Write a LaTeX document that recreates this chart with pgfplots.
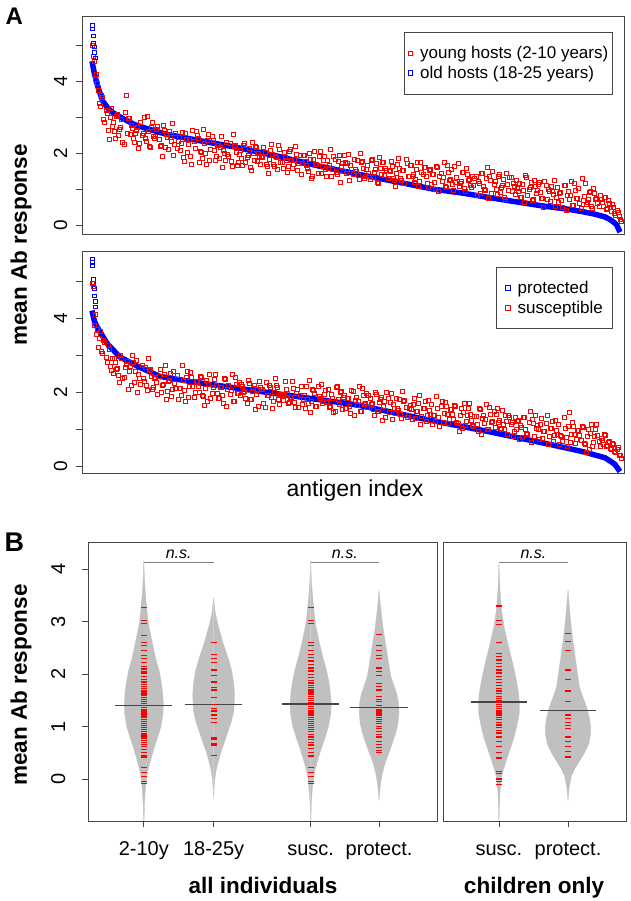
\documentclass[border=0pt]{standalone}
\usepackage{pgfplots}
\pgfplotsset{compat=1.18}
\usepackage{pgfplotstable}
\usepackage{fontspec}
\setmainfont{Liberation Sans}
\definecolor{rblue}{RGB}{0,0,255}
\definecolor{bean}{RGB}{192,192,192}
\definecolor{frame}{RGB}{70,70,70}
\newcommand{\fs}[1]{\fontsize{#1}{#1}\selectfont}

% panel A, top: young hosts, one mean per antigen (antigens sorted by old-host response)
\pgfplotstableread[row sep=\\]{
y\\
5.00\\ 4.55\\ 4.20\\ 3.75\\ 3.30\\ 3.55\\ 2.85\\ 3.10\\ 2.40\\ 3.25\\
2.86\\ 2.42\\ 3.09\\ 2.66\\ 2.94\\ 2.26\\ 3.62\\ 2.98\\ 2.54\\ 2.70\\
2.31\\ 2.65\\ 2.15\\ 2.87\\ 2.56\\ 2.42\\ 3.03\\ 2.21\\ 2.72\\ 2.47\\
2.46\\ 2.75\\ 2.20\\ 1.91\\ 2.65\\ 2.52\\ 2.11\\ 2.44\\ 2.82\\ 2.26\\
2.14\\ 2.44\\ 2.27\\ 1.89\\ 2.55\\ 2.02\\ 2.38\\ 1.71\\ 2.33\\ 2.61\\
2.41\\ 2.05\\ 1.86\\ 2.28\\ 1.70\\ 2.52\\ 2.11\\ 2.35\\ 1.80\\ 2.23\\
1.86\\ 2.47\\ 2.10\\ 1.81\\ 1.98\\ 2.27\\ 1.65\\ 2.21\\ 2.03\\ 1.75\\
2.08\\ 1.67\\ 2.29\\ 1.89\\ 2.15\\ 1.53\\ 1.99\\ 2.19\\ 1.78\\ 1.93\\
1.92\\ 2.16\\ 1.70\\ 1.46\\ 2.08\\ 1.97\\ 1.63\\ 1.90\\ 2.22\\ 1.75\\
1.60\\ 1.88\\ 1.47\\ 2.07\\ 1.81\\ 1.69\\ 2.20\\ 1.52\\ 1.94\\ 1.73\\
1.96\\ 1.66\\ 1.50\\ 1.85\\ 1.37\\ 2.05\\ 1.71\\ 1.91\\ 1.45\\ 1.81\\
1.57\\ 1.82\\ 1.68\\ 1.36\\ 1.91\\ 1.47\\ 1.77\\ 1.21\\ 1.73\\ 1.96\\
1.46\\ 1.97\\ 1.66\\ 1.42\\ 1.56\\ 1.80\\ 1.28\\ 1.75\\ 1.60\\ 1.37\\
1.66\\ 1.29\\ 1.85\\ 1.49\\ 1.72\\ 1.16\\ 1.58\\ 1.76\\ 1.39\\ 1.52\\
1.54\\ 1.78\\ 1.32\\ 1.08\\ 1.70\\ 1.59\\ 1.25\\ 1.52\\ 1.84\\ 1.37\\
1.67\\ 1.37\\ 1.21\\ 1.56\\ 1.08\\ 1.76\\ 1.42\\ 1.62\\ 1.16\\ 1.52\\
1.15\\ 1.43\\ 1.02\\ 1.62\\ 1.36\\ 1.24\\ 1.75\\ 1.07\\ 1.49\\ 1.28\\
1.14\\ 1.65\\ 1.34\\ 1.10\\ 1.24\\ 1.48\\ 0.96\\ 1.43\\ 1.28\\ 1.05\\
1.11\\ 1.36\\ 1.22\\ 0.90\\ 1.45\\ 1.01\\ 1.31\\ 0.75\\ 1.27\\ 1.50\\
1.23\\ 0.86\\ 1.42\\ 1.06\\ 1.29\\ 0.73\\ 1.15\\ 1.33\\ 0.96\\ 1.09\\
1.25\\ 0.95\\ 0.79\\ 1.14\\ 0.66\\ 1.34\\ 1.00\\ 1.20\\ 0.74\\ 1.10\\
0.97\\ 1.21\\ 0.75\\ 0.51\\ 1.13\\ 1.02\\ 0.68\\ 0.95\\ 1.27\\ 0.80\\
0.64\\ 0.92\\ 0.51\\ 1.11\\ 0.85\\ 0.73\\ 1.24\\ 0.56\\ 0.98\\ 0.77\\
0.63\\ 1.30\\ 0.81\\ 0.60\\ 0.72\\ 0.94\\ 0.47\\ 0.90\\ 0.76\\ 0.55\\
0.72\\ 0.55\\ 0.80\\ 0.48\\ 0.62\\ 0.40\\ 0.52\\ 0.30\\ 0.38\\ 0.18\\
}\youngA
\pgfplotstableread[row sep=\\]{
y\\
4.70\\ 4.05\\ 3.95\\ 3.40\\ 3.60\\ 2.95\\ 3.20\\ 2.65\\ 3.00\\ 2.75\\
2.61\\ 3.04\\ 2.49\\ 2.73\\ 2.32\\ 3.14\\ 2.56\\ 2.98\\ 2.79\\ 2.43\\
2.57\\ 2.73\\ 2.29\\ 2.50\\ 3.01\\ 2.33\\ 2.61\\ 2.18\\ 2.85\\ 2.41\\
2.68\\ 2.40\\ 2.22\\ 2.78\\ 2.16\\ 2.45\\ 2.62\\ 2.33\\ 1.96\\ 2.57\\
2.33\\ 2.08\\ 2.59\\ 1.77\\ 2.38\\ 2.24\\ 1.93\\ 2.65\\ 2.15\\ 2.49\\
1.76\\ 2.04\\ 2.66\\ 1.99\\ 2.35\\ 1.82\\ 2.48\\ 2.10\\ 1.93\\ 2.23\\
2.17\\ 1.61\\ 1.99\\ 2.32\\ 1.91\\ 1.78\\ 2.52\\ 2.23\\ 1.68\\ 1.97\\
1.86\\ 2.22\\ 1.76\\ 1.96\\ 1.62\\ 2.30\\ 1.82\\ 2.17\\ 2.01\\ 1.71\\
1.89\\ 2.02\\ 1.65\\ 1.83\\ 2.25\\ 1.69\\ 1.92\\ 1.56\\ 2.12\\ 1.75\\
2.03\\ 1.80\\ 1.65\\ 2.12\\ 1.60\\ 1.84\\ 1.98\\ 1.74\\ 1.43\\ 1.94\\
1.79\\ 1.58\\ 2.00\\ 1.32\\ 1.83\\ 1.71\\ 1.45\\ 2.05\\ 1.64\\ 1.92\\
1.36\\ 1.59\\ 2.11\\ 1.55\\ 1.85\\ 1.41\\ 1.96\\ 1.64\\ 1.50\\ 1.75\\
1.72\\ 1.25\\ 1.57\\ 1.84\\ 1.50\\ 1.39\\ 2.01\\ 1.77\\ 1.31\\ 1.55\\
1.45\\ 1.81\\ 1.35\\ 1.55\\ 1.21\\ 1.89\\ 1.41\\ 1.76\\ 1.60\\ 1.30\\
1.51\\ 1.64\\ 1.27\\ 1.45\\ 1.87\\ 1.31\\ 1.54\\ 1.18\\ 1.74\\ 1.37\\
1.66\\ 1.43\\ 1.28\\ 1.75\\ 1.23\\ 1.47\\ 1.61\\ 1.37\\ 1.06\\ 1.57\\
1.42\\ 1.21\\ 1.63\\ 0.95\\ 1.46\\ 1.34\\ 1.08\\ 1.68\\ 1.27\\ 1.55\\
0.98\\ 1.21\\ 1.73\\ 1.17\\ 1.47\\ 1.03\\ 1.58\\ 1.26\\ 1.12\\ 1.37\\
1.32\\ 0.85\\ 1.17\\ 1.44\\ 1.10\\ 0.99\\ 1.61\\ 1.37\\ 0.91\\ 1.15\\
1.02\\ 1.38\\ 0.92\\ 1.12\\ 0.78\\ 1.46\\ 0.98\\ 1.33\\ 1.17\\ 0.87\\
1.03\\ 1.16\\ 0.79\\ 0.97\\ 1.39\\ 0.83\\ 1.06\\ 0.70\\ 1.26\\ 0.89\\
1.15\\ 0.92\\ 0.77\\ 1.24\\ 0.72\\ 0.96\\ 1.10\\ 0.86\\ 0.55\\ 1.06\\
0.91\\ 0.70\\ 1.12\\ 0.44\\ 0.95\\ 0.83\\ 0.57\\ 1.17\\ 0.76\\ 1.04\\
0.49\\ 0.70\\ 1.17\\ 0.66\\ 0.93\\ 0.53\\ 1.03\\ 0.74\\ 0.62\\ 0.84\\
0.66\\ 0.78\\ 0.45\\ 0.70\\ 0.52\\ 0.58\\ 0.35\\ 0.44\\ 0.25\\ 0.12\\
}\youngB

% panel A, bottom: susceptible individuals (antigens sorted by protected response)
\pgfplotstableread[row sep=\\]{
y\\
4.95\\ 3.80\\ 3.55\\ 3.20\\ 3.65\\ 3.05\\ 3.35\\ 2.80\\ 3.15\\ 2.60\\
2.51\\ 2.81\\ 2.64\\ 2.26\\ 2.92\\ 2.39\\ 2.75\\ 2.08\\ 2.70\\ 2.98\\
2.25\\ 2.86\\ 2.49\\ 2.20\\ 2.37\\ 2.66\\ 2.04\\ 2.60\\ 2.42\\ 2.14\\
2.39\\ 1.95\\ 2.62\\ 2.19\\ 2.47\\ 1.79\\ 2.30\\ 2.51\\ 2.07\\ 2.23\\
2.46\\ 2.10\\ 1.91\\ 2.33\\ 1.75\\ 2.57\\ 2.16\\ 2.40\\ 1.85\\ 2.28\\
2.16\\ 2.42\\ 1.91\\ 1.65\\ 2.33\\ 2.21\\ 1.84\\ 2.13\\ 2.49\\ 1.97\\
1.83\\ 2.14\\ 1.69\\ 2.35\\ 2.06\\ 1.93\\ 2.49\\ 1.74\\ 2.20\\ 1.97\\
1.90\\ 2.15\\ 2.01\\ 1.69\\ 2.24\\ 1.80\\ 2.10\\ 1.54\\ 2.06\\ 2.29\\
2.07\\ 1.70\\ 2.26\\ 1.90\\ 2.13\\ 1.57\\ 1.99\\ 2.17\\ 1.80\\ 1.93\\
1.77\\ 2.28\\ 1.97\\ 1.73\\ 1.87\\ 2.11\\ 1.59\\ 2.06\\ 1.91\\ 1.68\\
1.91\\ 2.15\\ 1.69\\ 1.45\\ 2.07\\ 1.96\\ 1.62\\ 1.89\\ 2.21\\ 1.74\\
2.05\\ 1.75\\ 1.59\\ 1.94\\ 1.46\\ 2.14\\ 1.80\\ 2.00\\ 1.54\\ 1.90\\
1.56\\ 1.84\\ 1.43\\ 2.03\\ 1.77\\ 1.65\\ 2.16\\ 1.48\\ 1.90\\ 1.69\\
1.59\\ 1.84\\ 1.70\\ 1.38\\ 1.93\\ 1.49\\ 1.79\\ 1.23\\ 1.75\\ 1.98\\
1.46\\ 1.97\\ 1.66\\ 1.42\\ 1.56\\ 1.80\\ 1.28\\ 1.75\\ 1.60\\ 1.37\\
1.64\\ 1.27\\ 1.83\\ 1.47\\ 1.70\\ 1.14\\ 1.56\\ 1.74\\ 1.37\\ 1.50\\
1.67\\ 1.37\\ 1.21\\ 1.56\\ 1.08\\ 1.76\\ 1.42\\ 1.62\\ 1.16\\ 1.52\\
1.40\\ 1.64\\ 1.18\\ 0.94\\ 1.56\\ 1.45\\ 1.11\\ 1.38\\ 1.70\\ 1.23\\
1.07\\ 1.35\\ 0.94\\ 1.54\\ 1.28\\ 1.16\\ 1.67\\ 0.99\\ 1.41\\ 1.20\\
1.04\\ 1.55\\ 1.24\\ 1.00\\ 1.14\\ 1.38\\ 0.86\\ 1.33\\ 1.18\\ 0.95\\
0.99\\ 1.24\\ 1.10\\ 0.78\\ 1.33\\ 0.89\\ 1.19\\ 0.63\\ 1.15\\ 1.38\\
1.10\\ 0.73\\ 1.29\\ 0.93\\ 1.16\\ 0.60\\ 1.02\\ 1.20\\ 0.83\\ 0.96\\
1.12\\ 0.82\\ 0.66\\ 1.01\\ 0.53\\ 1.45\\ 0.87\\ 1.07\\ 0.61\\ 0.97\\
0.83\\ 1.07\\ 0.61\\ 0.37\\ 0.99\\ 0.88\\ 0.54\\ 0.81\\ 1.13\\ 0.66\\
0.75\\ 0.60\\ 0.82\\ 0.55\\ 0.68\\ 0.45\\ 0.58\\ 0.38\\ 0.50\\ 0.28\\
}\suscA
\pgfplotstableread[row sep=\\]{
y\\
4.85\\ 4.10\\ 3.70\\ 3.45\\ 3.10\\ 3.40\\ 2.95\\ 3.25\\ 2.70\\ 2.90\\
2.90\\ 2.62\\ 2.44\\ 3.00\\ 2.38\\ 2.67\\ 2.84\\ 2.55\\ 2.18\\ 2.79\\
2.56\\ 2.00\\ 2.38\\ 2.71\\ 2.30\\ 2.17\\ 2.91\\ 2.62\\ 2.07\\ 2.36\\
2.27\\ 2.43\\ 1.99\\ 2.20\\ 2.71\\ 2.03\\ 2.31\\ 1.88\\ 2.55\\ 2.11\\
1.81\\ 2.09\\ 2.71\\ 2.04\\ 2.40\\ 1.87\\ 2.53\\ 2.15\\ 1.98\\ 2.28\\
2.00\\ 2.40\\ 1.89\\ 2.11\\ 1.74\\ 2.49\\ 1.96\\ 2.34\\ 2.17\\ 1.84\\
2.13\\ 1.90\\ 2.36\\ 1.61\\ 2.17\\ 2.04\\ 1.75\\ 2.41\\ 1.96\\ 2.27\\
2.22\\ 1.99\\ 1.84\\ 2.31\\ 1.79\\ 2.03\\ 2.17\\ 1.93\\ 1.62\\ 2.13\\
2.07\\ 1.60\\ 1.92\\ 2.19\\ 1.85\\ 1.74\\ 2.36\\ 2.12\\ 1.66\\ 1.90\\
1.93\\ 2.06\\ 1.69\\ 1.87\\ 2.29\\ 1.73\\ 1.96\\ 1.60\\ 2.16\\ 1.79\\
1.56\\ 1.79\\ 2.31\\ 1.75\\ 2.05\\ 1.61\\ 2.16\\ 1.84\\ 1.70\\ 1.95\\
1.72\\ 2.08\\ 1.62\\ 1.82\\ 1.48\\ 2.16\\ 1.68\\ 2.03\\ 1.87\\ 1.57\\
1.83\\ 1.62\\ 2.04\\ 1.36\\ 1.87\\ 1.75\\ 1.49\\ 2.09\\ 1.68\\ 1.96\\
1.91\\ 1.68\\ 1.53\\ 2.00\\ 1.48\\ 1.72\\ 1.86\\ 1.62\\ 1.31\\ 1.82\\
1.72\\ 1.25\\ 1.57\\ 1.84\\ 1.50\\ 1.39\\ 2.01\\ 1.77\\ 1.31\\ 1.55\\
1.54\\ 1.67\\ 1.30\\ 1.48\\ 1.90\\ 1.34\\ 1.57\\ 1.21\\ 1.77\\ 1.40\\
1.13\\ 1.36\\ 1.88\\ 1.32\\ 1.62\\ 1.18\\ 1.73\\ 1.41\\ 1.27\\ 1.52\\
1.26\\ 1.62\\ 1.16\\ 1.36\\ 1.02\\ 1.70\\ 1.22\\ 1.57\\ 1.41\\ 1.11\\
1.34\\ 1.13\\ 1.55\\ 0.87\\ 1.38\\ 1.26\\ 1.00\\ 1.60\\ 1.19\\ 1.47\\
1.41\\ 1.18\\ 1.03\\ 1.50\\ 0.98\\ 1.22\\ 1.36\\ 1.12\\ 0.81\\ 1.32\\
1.20\\ 0.73\\ 1.05\\ 1.32\\ 0.98\\ 0.87\\ 1.49\\ 1.25\\ 0.79\\ 1.03\\
1.00\\ 1.13\\ 0.76\\ 0.94\\ 1.36\\ 0.80\\ 1.03\\ 0.67\\ 1.23\\ 0.86\\
0.58\\ 0.81\\ 1.33\\ 0.77\\ 1.07\\ 0.63\\ 1.18\\ 0.86\\ 0.72\\ 0.97\\
0.69\\ 1.05\\ 0.59\\ 0.79\\ 0.45\\ 1.13\\ 0.65\\ 1.00\\ 0.84\\ 0.54\\
0.70\\ 0.85\\ 0.52\\ 0.64\\ 0.48\\ 0.62\\ 0.40\\ 0.46\\ 0.30\\ 0.22\\
}\suscB

% panel B: bean outlines (response, half width)
\pgfplotstableread{
y w
4.15 0
3.8 0.01
3.5 0.025
3.2 0.045
2.95 0.067
2.57 0.126
2.3 0.17
2.06 0.22
1.85 0.25
1.68 0.267
1.45 0.28
1.25 0.275
1.0 0.245
0.8 0.2
0.6 0.15
0.42 0.11
0.2 0.065
0.04 0.04
-0.2 0.022
-0.45 0.01
-0.8 0.003
-0.9 0
}\beanYoung
\pgfplotstableread{
y w
3.45 0
3.2 0.02
2.95 0.06
2.57 0.14
2.3 0.21
2.06 0.26
1.8 0.29
1.6 0.30
1.3 0.29
1.1 0.255
0.92 0.21
0.7 0.155
0.54 0.11
0.35 0.07
0.16 0.036
0 0.018
-0.2 0.006
-0.35 0
}\beanOld
\pgfplotstableread{
y w
4.15 0
3.8 0.01
3.5 0.027
3.2 0.048
2.95 0.07
2.57 0.13
2.3 0.18
2.06 0.23
1.85 0.262
1.68 0.28
1.45 0.295
1.25 0.29
1.0 0.255
0.8 0.21
0.6 0.157
0.42 0.115
0.2 0.068
0.04 0.042
-0.2 0.023
-0.45 0.01
-0.8 0.003
-0.9 0
}\beanSusc
\pgfplotstableread{
y w
3.6 0
3.3 0.02
2.9 0.055
2.6 0.09
2.27 0.13
1.95 0.17
1.64 0.25
1.45 0.28
1.26 0.285
1.05 0.27
0.88 0.24
0.7 0.195
0.5 0.14
0.3 0.085
0.11 0.048
-0.1 0.02
-0.4 0
}\beanProt
\pgfplotstableread{
y w
4.1 0
3.6 0.015
3.23 0.036
2.9 0.075
2.6 0.126
2.15 0.21
1.9 0.25
1.64 0.285
1.45 0.295
1.26 0.295
1.05 0.265
0.82 0.225
0.62 0.175
0.43 0.126
0.2 0.07
0.05 0.039
-0.2 0.018
-0.5 0.007
-0.8 0.002
-0.9 0
}\beanChSusc
\pgfplotstableread{
y w
3.6 0
3.2 0.025
2.9 0.048
2.6 0.075
2.27 0.11
2.0 0.14
1.76 0.165
1.55 0.22
1.37 0.27
1.2 0.305
0.99 0.33
0.83 0.325
0.67 0.30
0.5 0.24
0.35 0.17
0.2 0.1
0.05 0.048
-0.15 0.018
-0.4 0
}\beanChProt

% panel B: individual responses
\pgfplotstableread[row sep=\\]{
y\\ 3.27\\ 3.02\\ 2.97\\ 2.74\\ 2.60\\ 2.55\\ 2.45\\ 2.36\\ 2.30\\ 2.22\\ 2.15\\ 2.10\\ 2.05\\ 2.02\\ 1.95\\ 1.90\\ 1.85\\ 1.80\\ 1.76\\ 1.72\\ 1.68\\ 1.64\\ 1.60\\ 1.56\\ 1.52\\ 1.48\\ 1.44\\ 1.40\\ 1.37\\ 1.33\\ 1.30\\ 1.27\\ 1.24\\ 1.20\\ 1.17\\ 1.14\\ 1.10\\ 1.06\\ 1.02\\ 0.98\\ 0.94\\ 0.90\\ 0.86\\ 0.82\\ 0.78\\ 0.74\\ 0.70\\ 0.66\\ 0.62\\ 0.56\\ 0.50\\ 0.45\\ 0.42\\ 0.22\\ 0.12\\ 0.05\\ -0.05\\ -0.08\\
}\ptYoung
\pgfplotstableread[row sep=\\]{
y\\ 2.60\\ 2.37\\ 2.30\\ 2.22\\ 2.08\\ 1.98\\ 1.85\\ 1.75\\ 1.70\\ 1.55\\ 1.42\\ 1.35\\ 1.30\\ 1.22\\ 1.15\\ 1.08\\ 0.78\\ 0.75\\ 0.68\\ 0.65\\ 0.45\\
}\ptOld
\pgfplotstableread[row sep=\\]{
y\\ 3.27\\ 3.02\\ 2.97\\ 2.60\\ 2.55\\ 2.45\\ 2.38\\ 2.32\\ 2.25\\ 2.18\\ 2.12\\ 2.06\\ 2.00\\ 1.94\\ 1.88\\ 1.83\\ 1.78\\ 1.74\\ 1.70\\ 1.66\\ 1.62\\ 1.58\\ 1.54\\ 1.50\\ 1.46\\ 1.42\\ 1.38\\ 1.34\\ 1.30\\ 1.26\\ 1.22\\ 1.18\\ 1.14\\ 1.10\\ 1.06\\ 1.02\\ 0.98\\ 0.94\\ 0.90\\ 0.85\\ 0.80\\ 0.75\\ 0.70\\ 0.65\\ 0.58\\ 0.50\\ 0.44\\ 0.22\\ 0.12\\ 0.05\\ -0.05\\ -0.08\\
}\ptSusc
\pgfplotstableread[row sep=\\]{
y\\ 2.75\\ 2.55\\ 2.45\\ 2.35\\ 2.30\\ 2.12\\ 2.05\\ 1.98\\ 1.82\\ 1.76\\ 1.70\\ 1.58\\ 1.52\\ 1.48\\ 1.40\\ 1.36\\ 1.33\\ 1.30\\ 1.26\\ 1.22\\ 1.18\\ 1.14\\ 1.10\\ 1.06\\ 1.00\\ 0.96\\ 0.90\\ 0.85\\ 0.80\\ 0.72\\ 0.66\\ 0.60\\ 0.55\\ 0.50\\
}\ptProt
\pgfplotstableread[row sep=\\]{
y\\ 3.30\\ 3.02\\ 2.95\\ 2.60\\ 2.40\\ 2.33\\ 2.27\\ 2.20\\ 2.14\\ 2.08\\ 2.02\\ 1.96\\ 1.90\\ 1.84\\ 1.78\\ 1.73\\ 1.68\\ 1.63\\ 1.58\\ 1.54\\ 1.50\\ 1.46\\ 1.42\\ 1.38\\ 1.34\\ 1.30\\ 1.26\\ 1.22\\ 1.18\\ 1.13\\ 1.08\\ 1.03\\ 0.98\\ 0.93\\ 0.88\\ 0.80\\ 0.72\\ 0.62\\ 0.50\\ 0.40\\ 0.15\\ 0.10\\ 0.00\\ -0.05\\ -0.10\\
}\ptChSusc
\pgfplotstableread[row sep=\\]{
y\\ 2.77\\ 2.62\\ 2.45\\ 2.08\\ 1.90\\ 1.68\\ 1.48\\ 1.22\\ 1.15\\ 1.08\\ 1.02\\ 0.97\\ 0.80\\ 0.72\\ 0.62\\ 0.52\\ 0.42\\
}\ptChProt

\pgfplotsset{
  rbox/.style={scale only axis, anchor=south west,
    axis line style={frame, line width=0.8pt},
    every tick/.style={frame, line width=0.8pt},
    tick align=outside, major tick length=6pt,
    xtick pos=bottom, ytick pos=left},
  beanL/.style={fill=bean, draw=bean, line width=0.3pt},
  pts/.style={only marks, mark=square, mark size=2pt, draw=red,
    mark options={draw=red, fill=none, line width=0.5pt}},
  bpts/.style={only marks, mark=square, mark size=1.8pt, draw=rblue,
    mark options={draw=rblue, fill=none, line width=0.5pt}},
  ticks/.style={only marks, mark=-, mark size=3pt, draw=red,
    mark options={draw=red, line width=1.3pt}},
  meanl/.style={draw=frame, line width=1.3pt},
  legA/.style={legend style={anchor=north east, draw=frame, line width=0.8pt,
    font=\fs{17}, row sep=4pt, inner ysep=13pt,
    nodes={inner sep=1pt}, column sep=6.5pt}, legend cell align=left},
  legR/.style={only marks, mark=square, mark size=2.2pt, draw=red,
    mark options={draw=red, fill=none, line width=0.7pt}},
  legB/.style={only marks, mark=square, mark size=2.2pt, draw=rblue,
    mark options={draw=rblue, fill=none, line width=0.7pt}},
}

\begin{document}
\begin{tikzpicture}[x=1pt,y=1pt]
\useasboundingbox (0,0) rectangle (630,901);

% ---------- A, top ----------
\begin{axis}[rbox, legA, at={(82pt,667pt)}, width=542pt, height=218pt,
  xmin=-4.7, xmax=250.9, ymin=-0.23, ymax=5.8,
  xtick=\empty, ytick={0,1,2,3,4,5}, yticklabels={},
  legend style={at={(0.98,0.927)}, inner xsep=3.5pt}]
\addlegendimage{legR}
\addlegendentry{young hosts (2-10 years)}
\addlegendimage{legB}
\addlegendentry{old hosts (18-25 years)}
\addplot[pts, forget plot] table[x expr=\coordindex, y=y] {\youngA};
\addplot[pts, forget plot] table[x expr=\coordindex+0.5, y=y] {\youngB};
\addplot[draw=rblue, line width=5.5pt, line join=round, forget plot] coordinates {
 (0,4.55) (1,4.25) (2.5,3.9) (5,3.45) (7.5,3.25) (10,3.12) (15,2.95) (20,2.80)
 (25,2.70) (35,2.53) (50,2.36) (67,2.18) (87,1.93) (107,1.65) (125,1.43) (137,1.29)
 (150,1.14) (161,1.01) (175,0.90) (187,0.78) (200,0.66) (212,0.55) (224,0.46)
 (232,0.38) (237,0.32) (242,0.24) (244,0.18) (246,0.10) (247.5,0.02) (249,-0.18)};
\addplot[bpts, forget plot]
 coordinates {(0,5.55) (0,5.45) (0.5,5.25) (0.5,5.05) (1,4.95) (1,4.80) (1.5,4.65)};
\coordinate (a0) at (axis cs:-4.7,0);
\coordinate (a2) at (axis cs:-4.7,2);
\coordinate (a4) at (axis cs:-4.7,4);
\end{axis}

% ---------- A, bottom ----------
\begin{axis}[rbox, legA, at={(82pt,428pt)}, width=542pt, height=222pt,
  xmin=-4.7, xmax=250.9, ymin=-0.19, ymax=5.81,
  xtick=\empty, ytick={0,1,2,3,4,5}, yticklabels={},
  legend style={at={(0.98,0.93)}, inner xsep=9pt}]
\addlegendimage{legB}
\addlegendentry{protected}
\addlegendimage{legR}
\addlegendentry{susceptible}
\addplot[draw=rblue, line width=5.5pt, line join=round, forget plot] coordinates {
 (0,4.2) (1.2,3.9) (2.5,3.75) (7,3.32) (13,2.95) (22,2.68) (32,2.42) (50,2.25)
 (75,2.05) (100,1.85) (125,1.65) (159,1.24) (187,0.93) (217,0.57) (232,0.38)
 (242,0.22) (246.5,0.05) (249,-0.15)};
\addplot[bpts, forget plot]
 coordinates {(0,5.6) (0,5.5) (0,5.42) (0.5,5.05) (0.5,4.95) (1,4.8) (1,4.6) (1.5,4.45) (1.5,4.3)};
\addplot[pts, forget plot] table[x expr=\coordindex, y=y] {\suscA};
\addplot[pts, forget plot] table[x expr=\coordindex+0.5, y=y] {\suscB};
\coordinate (b0) at (axis cs:-4.7,0);
\coordinate (b2) at (axis cs:-4.7,2);
\coordinate (b4) at (axis cs:-4.7,4);
\end{axis}

% ---------- B, all individuals ----------
\begin{axis}[rbox, at={(88pt,80pt)}, width=349pt, height=279pt,
  xmin=0.2, xmax=5.2, ymin=-0.8, ymax=4.52,
  xtick={1,2,3.39,4.37}, xticklabels={2-10y,18-25y,susc.,protect.},
  ytick={0,1,2,3,4}, yticklabels={},
  xticklabel style={anchor=base, inner sep=0pt, font=\fs{20}, yshift=-29pt}]
\addplot[beanL] table[x expr=1-\thisrow{w}, y=y] {\beanYoung};
\addplot[beanL] table[x expr=1+\thisrow{w}, y=y] {\beanYoung};
\addplot[beanL] table[x expr=2-\thisrow{w}, y=y] {\beanOld};
\addplot[beanL] table[x expr=2+\thisrow{w}, y=y] {\beanOld};
\addplot[beanL] table[x expr=3.39-\thisrow{w}, y=y] {\beanSusc};
\addplot[beanL] table[x expr=3.39+\thisrow{w}, y=y] {\beanSusc};
\addplot[beanL] table[x expr=4.37-\thisrow{w}, y=y] {\beanProt};
\addplot[beanL] table[x expr=4.37+\thisrow{w}, y=y] {\beanProt};
\addplot[ticks] table[x expr=1, y=y] {\ptYoung};
\addplot[ticks] table[x expr=2, y=y] {\ptOld};
\addplot[ticks] table[x expr=3.39, y=y] {\ptSusc};
\addplot[ticks] table[x expr=4.37, y=y] {\ptProt};
\addplot[meanl] coordinates {(0.59,1.40) (1.41,1.40)};
\addplot[meanl] coordinates {(1.59,1.42) (2.41,1.42)};
\addplot[meanl] coordinates {(2.98,1.43) (3.80,1.43)};
\addplot[meanl] coordinates {(3.96,1.36) (4.78,1.36)};
\addplot[draw=gray, line width=0.7pt] coordinates {(1,4.14) (2,4.14)};
\addplot[draw=gray, line width=0.7pt] coordinates {(3.39,4.14) (4.37,4.14)};
\node[font=\itshape\fs{16}, anchor=base] at (axis cs:1.5,4.20) {n.s.};
\node[font=\itshape\fs{16}, anchor=base] at (axis cs:3.88,4.20) {n.s.};
\coordinate (c0) at (axis cs:0.2,0);
\coordinate (c1) at (axis cs:0.2,1);
\coordinate (c2) at (axis cs:0.2,2);
\coordinate (c3) at (axis cs:0.2,3);
\coordinate (c4) at (axis cs:0.2,4);
\end{axis}

% ---------- B, children only ----------
\begin{axis}[rbox, at={(443pt,80pt)}, width=183pt, height=279pt,
  xmin=0.19, xmax=2.84, ymin=-0.8, ymax=4.52,
  xtick={1,2}, xticklabels={susc.,protect.}, ytick=\empty,
  xticklabel style={anchor=base, inner sep=0pt, font=\fs{20}, yshift=-29pt}]
\addplot[beanL] table[x expr=1-\thisrow{w}, y=y] {\beanChSusc};
\addplot[beanL] table[x expr=1+\thisrow{w}, y=y] {\beanChSusc};
\addplot[beanL] table[x expr=2-\thisrow{w}, y=y] {\beanChProt};
\addplot[beanL] table[x expr=2+\thisrow{w}, y=y] {\beanChProt};
\addplot[ticks] table[x expr=1, y=y] {\ptChSusc};
\addplot[ticks] table[x expr=2, y=y] {\ptChProt};
\addplot[meanl] coordinates {(0.59,1.47) (1.41,1.47)};
\addplot[meanl] coordinates {(1.59,1.31) (2.41,1.31)};
\addplot[draw=gray, line width=0.7pt] coordinates {(1,4.14) (2,4.14)};
\node[font=\itshape\fs{16}, anchor=base] at (axis cs:1.5,4.20) {n.s.};
\end{axis}

% y tick labels, set parallel to the axis as in the original
\foreach \c/\t in {a0/0,a2/2,a4/4,b0/0,b2/2,b4/4}
  \node[rotate=90, anchor=base, inner sep=0pt, font=\fs{19}] at ([xshift=-15pt]\c) {\t};
\foreach \c/\t in {c0/0,c1/1,c2/2,c3/3,c4/4}
  \node[rotate=90, anchor=base, inner sep=0pt, font=\fs{20}] at ([xshift=-23pt]\c) {\t};

% labels
\node[font=\bfseries\fs{24}, anchor=base west] at (2,876) {A};
\node[font=\bfseries\fs{27}, anchor=base west] at (1,349) {B};
\node[rotate=90, font=\bfseries\fs{22.5}] at (21,656) {mean Ab response};
\node[rotate=90, font=\bfseries\fs{22.5}] at (21,216) {mean Ab response};
\node[font=\fs{23}, anchor=base] at (355,404) {antigen index};
\node[font=\bfseries\fs{22.5}, anchor=base] at (263,8) {all individuals};
\node[font=\bfseries\fs{22.5}, anchor=base] at (534,8) {children only};
\end{tikzpicture}
\end{document}
